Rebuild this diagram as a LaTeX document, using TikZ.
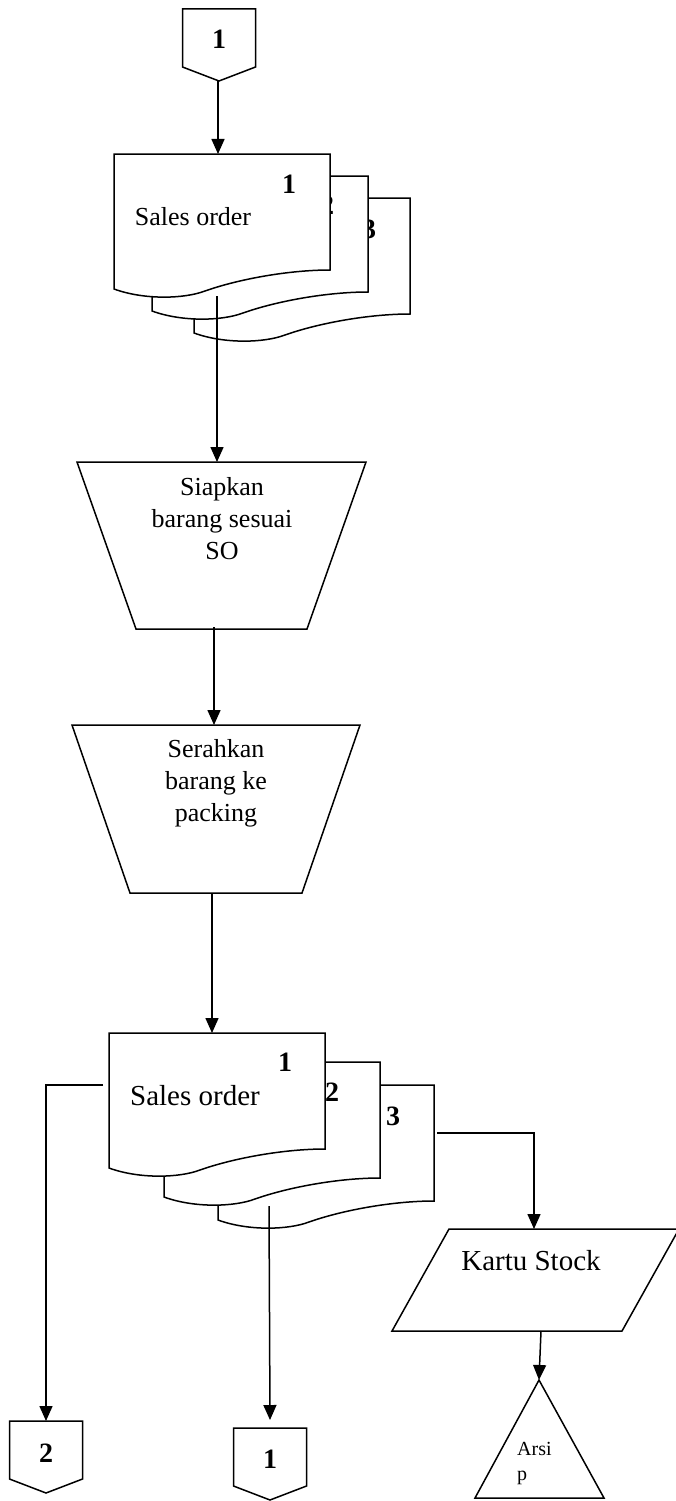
\documentclass[tikz,border=0pt]{standalone}
\usepackage{fontspec}
\setmainfont{Liberation Serif}
\usetikzlibrary{arrows.meta}

\tikzset{
  outline/.style={line width=1.5pt, fill=white, line join=miter},
  flow/.style={line width=1.5pt, -{Triangle[width=13pt,length=15pt]}},
  txt/.style={font=\fontsize{26}{32}\selectfont, align=center, inner sep=0pt},
  bigtxt/.style={font=\fontsize{29}{34}\selectfont, inner sep=0pt},
  smalltxt/.style={font=\fontsize{20}{25}\selectfont, align=left, inner sep=0pt},
  num/.style={font=\fontsize{28}{28}\selectfont\bfseries, inner sep=0pt},
  % off-page connector, origin at the middle of its top edge
  offpage/.pic={
    \draw[outline] (-36.5,0) -- (36.5,0) -- (36.5,58) -- (0,72) -- (-36.5,58) -- cycle;
  },
  % document sheet with wavy bottom, origin at its top-left corner
  docsheet/.pic={
    \draw[outline] (0,0) -- (216,0) -- (216,116)
      .. controls (175,116) and (125,125) .. (91,137)
      .. controls (70,145) and (30,146) .. (0,135) -- cycle;
  }
}

\begin{document}
\begin{tikzpicture}[x=1pt,y=-1pt]
\useasboundingbox (0,0) rectangle (675,1501);

% ---- incoming connector 1
\pic at (219,9) {offpage};
\node[num] (inOne) at (219,39) {1};
\coordinate (inOneTip) at (218,81);

% ---- sales order, three copies
\pic at (194,198) {docsheet};
\node[num] (soA3) at (369,229) {3};
\pic at (152,176) {docsheet};
\node[num] (soA2) at (327,205) {2};
\pic at (114,154) {docsheet};
\node[num] (soA1) at (289,184) {1};
\node[txt] (soA) at (193,217) {Sales order};
\coordinate (soATop) at (218,154);
\coordinate (soABot) at (217,296);

% ---- prepare goods
\draw[outline] (77,462) -- (366,462) -- (307,629) -- (136,629) -- cycle;
\node[txt] (prep) at (222,519) {Siapkan\\barang sesuai\\SO};
\coordinate (prepTop) at (217,462);
\coordinate (prepBot) at (214,627);

% ---- hand over to packing
\draw[outline] (72,725) -- (360,725) -- (302,893) -- (130,893) -- cycle;
\node[txt] (pack) at (216,783) {Serahkan\\barang ke\\packing};
\coordinate (packTop) at (214,725);
\coordinate (packBot) at (212,893);

% ---- sales order, three copies (after packing)
\pic at (218,1085) {docsheet};
\node[num] (soB3) at (393,1116) {3};
\pic at (164,1062) {docsheet};
\node[num] (soB2) at (332,1092) {2};
\pic at (109,1033) {docsheet};
\node[num] (soB1) at (285,1062) {1};
\node[bigtxt] (soB) at (195,1096) {Sales order};
\coordinate (soBTop) at (212,1033);
\coordinate (soBLeft) at (103,1085);
\coordinate (soBMid) at (269,1206);
\coordinate (soBRight) at (437,1133);

% ---- stock card
\draw[outline] (449,1229) -- (679,1229) -- (622,1331) -- (392,1331) -- cycle;
\node[bigtxt] (card) at (531,1261) {Kartu Stock};
\coordinate (cardTop) at (534,1229);
\coordinate (cardBot) at (541,1331);

% ---- archive
\draw[outline] (539,1380) -- (604,1498) -- (475,1498) -- cycle;
\node[smalltxt, anchor=west] (arch) at (517,1463) {Arsi\\p};
\coordinate (archTop) at (539,1380);

% ---- outgoing connectors
\pic at (46,1421) {offpage};
\node[num] (outTwo) at (46,1453) {2};
\coordinate (outTwoTop) at (46,1421);
\pic at (270,1428) {offpage};
\node[num] (outOne) at (270,1459) {1};
\coordinate (outOneTop) at (270,1420);

% ---- flow lines
\draw[flow] (inOneTip) -- (soATop);
\draw[flow] (soABot) -- (prepTop);
\draw[flow] (prepBot) -- (packTop);
\draw[flow] (packBot) -- (soBTop);
\draw[flow] (soBLeft) -| (outTwoTop);
\draw[flow] (soBMid) -- (outOneTop);
\draw[flow] (soBRight) -| (cardTop);
\draw[flow] (cardBot) -- (archTop);
\end{tikzpicture}
\end{document}
